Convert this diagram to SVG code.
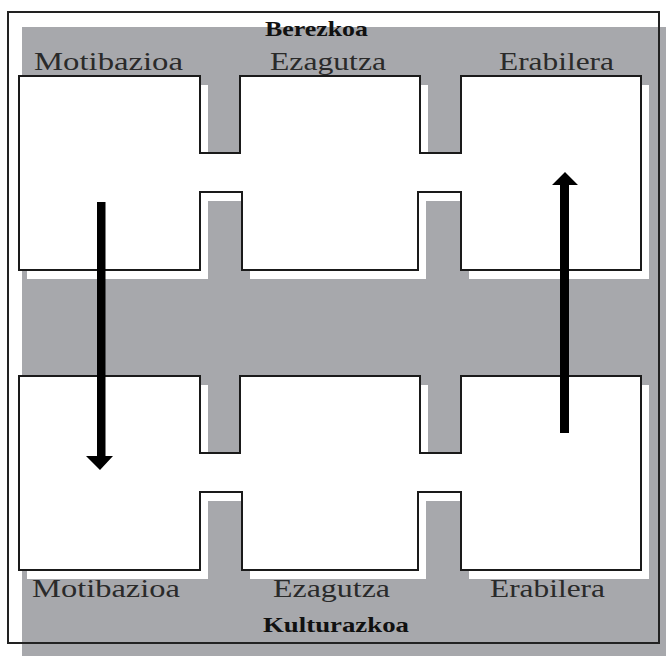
<svg xmlns="http://www.w3.org/2000/svg" width="666" height="656" viewBox="0 0 666 656">
<style>
.shape{fill:#fff;stroke:#1a1a1a;stroke-width:2;stroke-linejoin:miter}
.shadow{fill:#fff;stroke:none}
.lbl{font-family:"Liberation Serif","Times New Roman",serif;font-size:25px;fill:#2a2a2a}
.ttl{font-family:"Liberation Serif","Times New Roman",serif;font-weight:bold;font-size:22px;fill:#111}
.arrow{fill:#000;stroke:none}
</style>
<defs>
<path id="hshape" d="M19,76 H200 V153 H240 V76 H420 V153 H461 V76 H641 V270 H461 V192 H418 V270 H242 V192 H200 V270 H19 Z"/>
</defs>
<rect x="0" y="0" width="666" height="656" fill="#fff"/>
<rect x="22" y="27" width="644" height="629" fill="#a7a8ac"/>
<rect x="8" y="12" width="651" height="631" fill="none" stroke="#222" stroke-width="2"/>

<g id="top-row">
<use href="#hshape" class="shadow" transform="translate(8,9)"/>
<use href="#hshape" class="shape"/>
</g>
<g id="bottom-row">
<use href="#hshape" class="shadow" transform="translate(8,309)"/>
<use href="#hshape" class="shape" transform="translate(0,300)"/>
</g>

<g id="label-berezkoa"><text class="ttl" x="265" y="36" textLength="103" lengthAdjust="spacingAndGlyphs">Berezkoa</text></g>
<g id="label-top-motibazioa"><text class="lbl" x="34" y="70" textLength="149" lengthAdjust="spacingAndGlyphs">Motibazioa</text></g>
<g id="label-top-ezagutza"><text class="lbl" x="270" y="70" textLength="116" lengthAdjust="spacingAndGlyphs">Ezagutza</text></g>
<g id="label-top-erabilera"><text class="lbl" x="499" y="70" textLength="115" lengthAdjust="spacingAndGlyphs">Erabilera</text></g>
<g id="label-bottom-motibazioa"><text class="lbl" x="32" y="597" textLength="148" lengthAdjust="spacingAndGlyphs">Motibazioa</text></g>
<g id="label-bottom-ezagutza"><text class="lbl" x="273" y="597" textLength="117" lengthAdjust="spacingAndGlyphs">Ezagutza</text></g>
<g id="label-bottom-erabilera"><text class="lbl" x="490" y="597" textLength="115" lengthAdjust="spacingAndGlyphs">Erabilera</text></g>
<g id="label-kulturazkoa"><text class="ttl" x="263" y="632" textLength="146" lengthAdjust="spacingAndGlyphs">Kulturazkoa</text></g>

<g id="connectors">
<path class="arrow" d="M97,202 H105.5 V456 H113 L100,470 L86,456 H97 Z"/>
<path class="arrow" d="M560,433 H569 V185 H578 L565,172 L552,185 H560 Z"/>
</g>
</svg>
